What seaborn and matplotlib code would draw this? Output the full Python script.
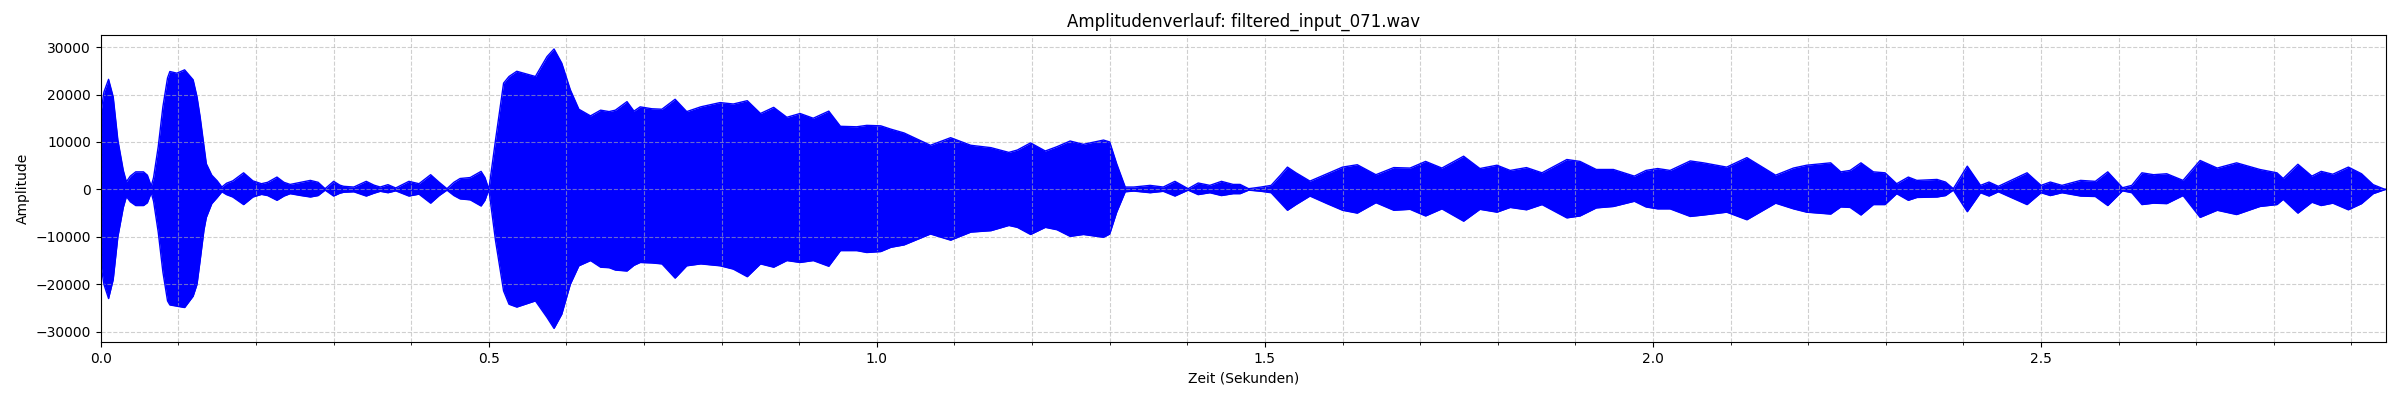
import numpy as np
import pandas as pd
import seaborn as sns
import matplotlib
matplotlib.use('Agg')
import matplotlib.pyplot as plt
from matplotlib.ticker import MultipleLocator

# envelope of the waveform (time in s, amplitude)
zeit = [0.000, 0.004, 0.010, 0.016, 0.022, 0.029, 0.033, 0.038, 0.045, 0.055,
        0.060, 0.065, 0.068, 0.074, 0.080, 0.086, 0.089, 0.098, 0.108, 0.119,
        0.124, 0.128, 0.133, 0.136, 0.143, 0.150, 0.156, 0.162, 0.170, 0.184,
        0.196, 0.207, 0.215, 0.227, 0.236, 0.244, 0.258, 0.270, 0.280, 0.289,
        0.300, 0.308, 0.313, 0.326, 0.342, 0.352, 0.360, 0.370, 0.380, 0.397,
        0.410, 0.425, 0.436, 0.446, 0.455, 0.463, 0.476, 0.490, 0.495, 0.500,
        0.5086, 0.519, 0.526, 0.536, 0.560, 0.575, 0.584, 0.594, 0.605, 0.616,
        0.631, 0.644, 0.655, 0.663, 0.678, 0.687, 0.695, 0.710, 0.723, 0.740,
        0.755, 0.773, 0.798, 0.815, 0.833, 0.850, 0.867, 0.884, 0.901, 0.918,
        0.938, 0.953, 0.974, 0.987, 1.005, 1.018, 1.035, 1.069, 1.095, 1.121,
        1.147, 1.170, 1.181, 1.198, 1.217, 1.232, 1.249, 1.266, 1.292, 1.300,
        1.309, 1.320, 1.331, 1.352, 1.369, 1.384, 1.401, 1.414, 1.429, 1.444,
        1.459, 1.468, 1.479, 1.495, 1.508, 1.520, 1.529, 1.540, 1.558, 1.580,
        1.600, 1.619, 1.643, 1.666, 1.687, 1.707, 1.728, 1.756, 1.777, 1.799,
        1.816, 1.837, 1.857, 1.889, 1.906, 1.927, 1.949, 1.976, 1.991, 2.006,
        2.022, 2.048, 2.065, 2.095, 2.121, 2.158, 2.181, 2.198, 2.229, 2.242,
        2.254, 2.268, 2.284, 2.299, 2.314, 2.329, 2.340, 2.366, 2.377, 2.387,
        2.405, 2.422, 2.433, 2.445, 2.482, 2.500, 2.512, 2.527, 2.551, 2.570,
        2.586, 2.605, 2.617, 2.630, 2.645, 2.662, 2.683, 2.705, 2.727, 2.752,
        2.782, 2.804, 2.812, 2.831, 2.849, 2.861, 2.876, 2.896, 2.913, 2.928,
        2.941, 2.944]

oben = [16000, 20500, 23200, 19500, 10400, 4000, 1600, 2800, 3700, 3700,
        3000, 700, 2500, 9000, 17400, 23500, 24850, 24500, 25200, 23100,
        19500, 15300, 9000, 5400, 3000, 1800, 500, 1300, 1800, 3500,
        1800, 1200, 1500, 2600, 1500, 1050, 1500, 1900, 1500, 150,
        1700, 900, 650, 500, 1700, 900, 500, 1000, 300, 1700,
        1200, 3100, 1500, 150, 1500, 2300, 2500, 3800, 2500, 0,
        10400, 22400, 23800, 24900, 23800, 28000, 29600, 26600, 21000, 16900,
        15500, 16700, 16400, 16700, 18500, 16500, 17400, 17000, 16900, 19000,
        16400, 17400, 18300, 18000, 18700, 16000, 17300, 15200, 16000, 15000,
        16500, 13300, 13200, 13500, 13400, 12700, 11900, 9300, 10900, 9300,
        8800, 7800, 8300, 9800, 8100, 9000, 10200, 9500, 10400, 10000,
        5400, 500, 500, 850, 500, 1700, 150, 1350, 850, 1700,
        1050, 1050, 150, 500, 850, 3000, 4700, 3500, 1750, 3300,
        4700, 5200, 3100, 4600, 4500, 5900, 4500, 7000, 4400, 5100,
        4000, 4600, 3500, 6300, 5900, 4200, 4200, 2800, 4000, 4400,
        4000, 6000, 5600, 4700, 6700, 3000, 4500, 5100, 5600, 3700,
        4000, 5600, 3700, 3500, 1200, 2600, 1900, 2100, 1550, 150,
        4900, 850, 1550, 650, 3500, 850, 1550, 850, 1900, 1700,
        3700, 350, 850, 3500, 3100, 3300, 1900, 6100, 4500, 5600,
        4200, 3500, 2300, 5300, 2800, 3800, 3200, 4700, 3300, 1000,
        150, 0]

unten = [-15700, -20000, -23000, -19000, -10000, -3800, -1500, -2600, -3400, -3400,
         -2800, -700, -2500, -9000, -17400, -23500, -24350, -24600, -24900, -22500,
         -20000, -15000, -8500, -5900, -3000, -1700, -500, -1100, -1600, -3200,
         -1600, -1050, -1300, -2300, -1400, -900, -1300, -1600, -1300, -150,
         -1400, -800, -600, -500, -1400, -800, -400, -700, -300, -1400,
         -1000, -2900, -1300, -150, -1300, -2000, -2200, -3500, -2300, 0,
         -10800, -21400, -24200, -24800, -23500, -27000, -29300, -26300, -20000, -16100,
         -15000, -16400, -16500, -17000, -17200, -16000, -15400, -15500, -15700, -18700,
         -16100, -15700, -16100, -16800, -18400, -15700, -16400, -15000, -15400, -15000,
         -16200, -12900, -12900, -13300, -13100, -12200, -11700, -9400, -10700, -9000,
         -8700, -7600, -8000, -9500, -8000, -8500, -9900, -9500, -10100, -9400,
         -4800, -500, -350, -700, -400, -1400, -150, -1100, -700, -1300,
         -900, -900, -150, -400, -700, -2800, -4400, -3200, -1400, -3000,
         -4400, -5000, -2800, -4400, -4200, -5600, -4100, -6700, -4200, -4800,
         -3800, -4300, -3200, -6000, -5600, -3900, -3600, -2500, -3700, -4100,
         -4100, -5700, -5400, -4800, -6400, -2900, -4100, -4800, -5200, -3700,
         -3800, -5400, -3200, -3200, -900, -2300, -1700, -1600, -1300, -150,
         -4700, -700, -1400, -500, -3200, -700, -1300, -700, -1400, -1500,
         -3400, -300, -700, -3200, -2900, -3000, -1300, -5900, -4400, -5300,
         -3600, -3200, -2100, -5000, -2700, -3400, -2900, -4300, -3000, -900,
         -150, 0]

dauer = 2.944
dateiname = "filtered_input_071.wav"

df = pd.DataFrame({'zeit': zeit, 'oben': oben, 'unten': unten})

fig, ax = plt.subplots(figsize=(24, 4), dpi=100)

ax.fill_between(df['zeit'], df['unten'], df['oben'], color='blue', linewidth=0)
sns.lineplot(data=df, x='zeit', y='oben', color='blue', linewidth=1, ax=ax)
sns.lineplot(data=df, x='zeit', y='unten', color='blue', linewidth=1, ax=ax)

ax.set_title(f"Amplitudenverlauf: {dateiname}")
ax.set_xlabel("Zeit (Sekunden)")
ax.set_ylabel("Amplitude")
ax.set_xlim(0, dauer)

ax.xaxis.set_major_locator(MultipleLocator(0.5))
ax.xaxis.set_minor_locator(MultipleLocator(0.1))
ax.grid(True, which='both', linestyle='--', alpha=0.6)

plt.subplots_adjust(left=0.042, right=0.994, top=0.9125, bottom=0.144)
plt.savefig('out.png')
